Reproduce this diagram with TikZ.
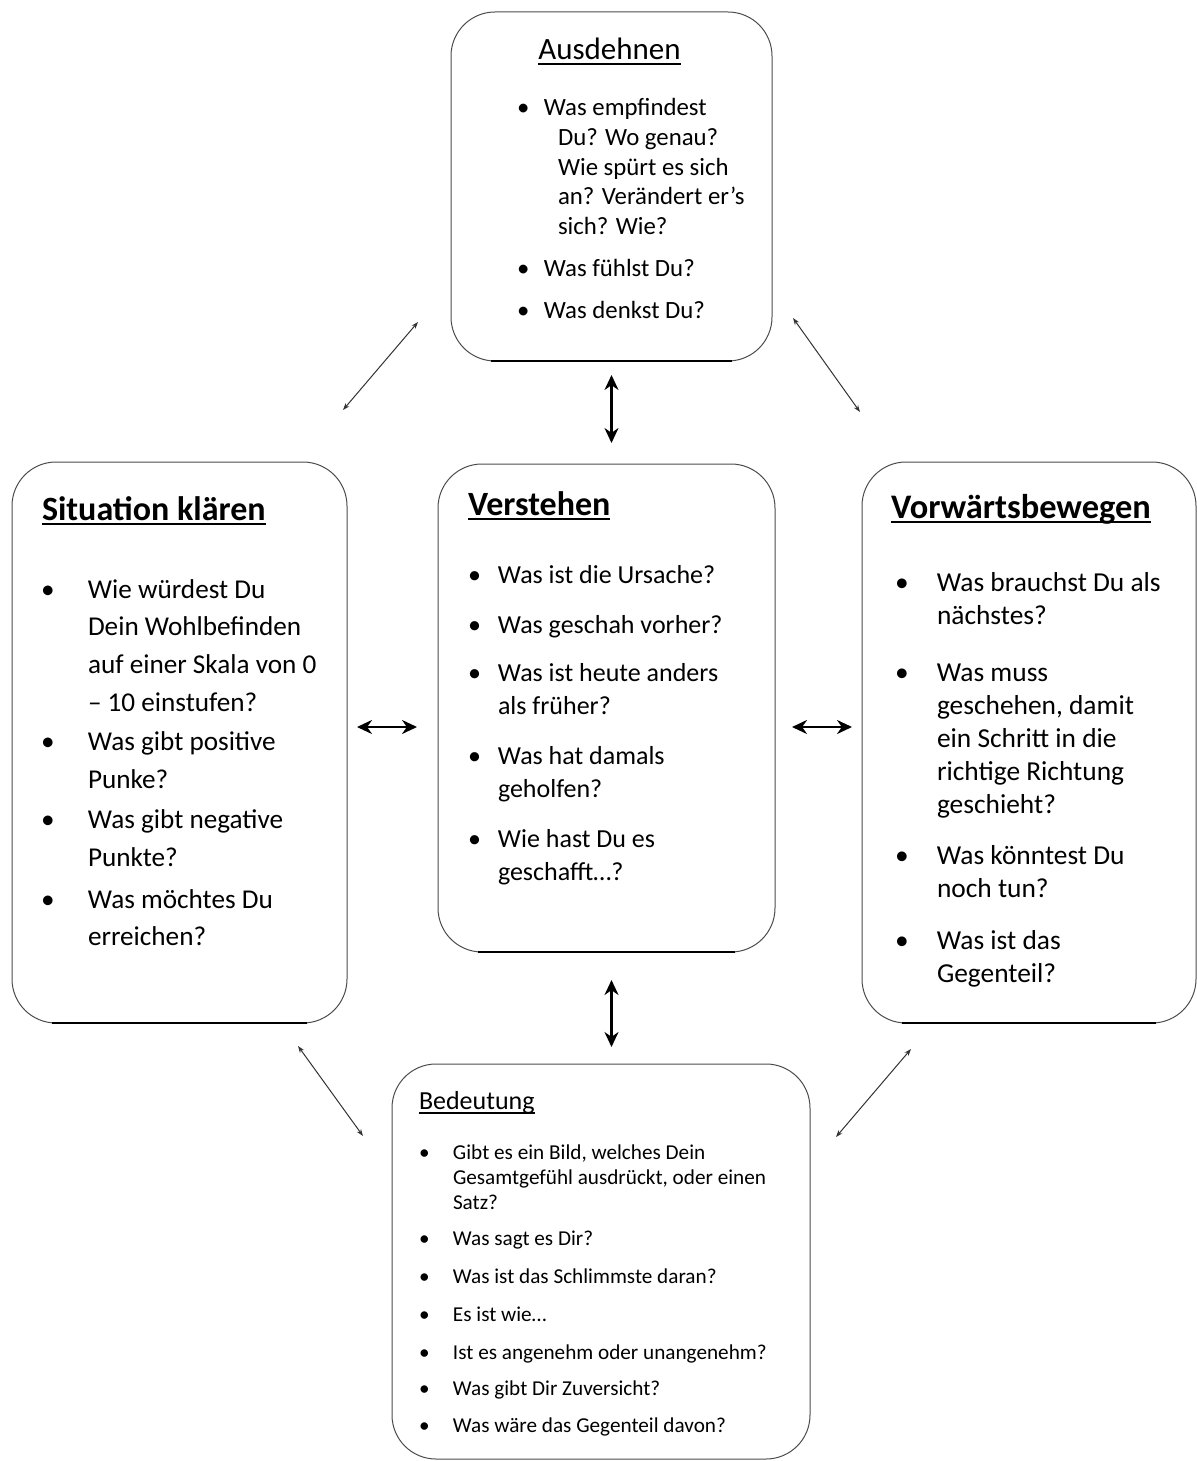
\documentclass[tikz,border=0pt]{standalone}
\usepackage{fontspec}
\setmainfont{Carlito}
\usetikzlibrary{arrows.meta}

\newcommand{\titleline}[1]{\setbox0\hbox{#1}\rlap{\usebox0}\rule[-2.4pt]{\wd0}{0.9pt}}

\begin{document}
\begin{tikzpicture}[x=0.5pt,y=-0.5pt]
\tikzset{ >=Stealth, inner sep=0pt, outer sep=0pt,
  box/.style={draw=black!70, line width=0.5pt, rounded corners=22pt},
  boxfoot/.style={line width=1.4pt},
  bigarrow/.style={<->, line width=1.2pt, >={Stealth[length=7.5pt,width=7pt]}},
  thinarrow/.style={<->, line width=0.5pt, black!80, >={Stealth[length=3.5pt,width=2.5pt]}},
  txt/.style={anchor=base west},
}
\useasboundingbox (0,0) rectangle (1197,1461);
\clip (0,0) rectangle (1197,1461);

%\draw [lightgray, dashed](0,0) grid[step=100] (1197,1461);

\node [box, minimum width=160.5pt, minimum height=174.5pt] (aus) at (611.5,186.5) {};
\node [box, minimum width=167.5pt, minimum height=280.5pt] (sit) at (179.5,742.5) {};
\node [box, minimum width=168.5pt, minimum height=244pt]   (ver) at (606.5,708) {};
\node [box, minimum width=167pt,   minimum height=280.5pt] (vor) at (1029,742.5) {};
\node [box, minimum width=209pt,   minimum height=197.5pt] (bed) at (601,1261.5) {};

\draw [boxfoot] ([xshift=20pt]aus.south west) -- ([xshift=-20pt]aus.south east);
\draw [boxfoot] ([xshift=20pt]sit.south west) -- ([xshift=-20pt]sit.south east);
\draw [boxfoot] ([xshift=20pt]ver.south west) -- ([xshift=-20pt]ver.south east);
\draw [boxfoot] ([xshift=20pt]vor.south west) -- ([xshift=-20pt]vor.south east);

% titles
\node [anchor=base] (ausT) at (609.5,60) {\fontsize{15.5}{18}\selectfont\titleline{Ausdehnen}};
\node [txt] (sitT) at (42,520) {\fontsize{17}{20}\selectfont\bfseries\titleline{Situation klären}};
\node [txt] (verT) at (468,515) {\fontsize{17}{20}\selectfont\bfseries\titleline{Verstehen}};
\node [txt] (vorT) at (891,518) {\fontsize{17.2}{20}\selectfont\bfseries\titleline{Vorwärtsbewegen}};
\node [txt] (bedT) at (419,1109) {\fontsize{13}{15}\selectfont\titleline{Bedeutung}};

% questions
\node [txt] (ausQ) at (517,116) {\fontsize{12.4}{14.75}\selectfont
\begin{tabular}[t]{@{}p{13.5pt}@{}l@{}}
\textbullet & Was empfindest\\
 & \hspace{7pt}Du? Wo genau?\\
 & \hspace{7pt}Wie spürt es sich\\
 & \hspace{7pt}an? Verändert er’s\\
 & \hspace{7pt}sich? Wie?\\[6.5pt]
\textbullet & Was fühlst Du?\\[6.25pt]
\textbullet & Was denkst Du?
\end{tabular}};

\node [txt] (sitQ) at (41,598) {\fontsize{13.6}{18.85}\selectfont
\begin{tabular}[t]{@{}p{23.5pt}@{}l@{}}
\textbullet & Wie würdest Du\\
 & Dein Wohlbefinden\\
 & auf einer Skala von 0\\
 & – 10 einstufen?\\[0.8pt]
\textbullet & Was gibt positive\\
 & Punke?\\[1.5pt]
\textbullet & Was gibt negative\\
 & Punkte?\\[2pt]
\textbullet & Was möchtes Du\\
 & erreichen?
\end{tabular}};

\node [txt] (verQ) at (468,583) {\fontsize{13}{16.5}\selectfont
\begin{tabular}[t]{@{}p{15pt}@{}l@{}}
\textbullet & Was ist die Ursache?\\[8.5pt]
\textbullet & Was geschah vorher?\\[7.5pt]
\textbullet & Was ist heute anders\\
 & als früher?\\[8.5pt]
\textbullet & Was hat damals\\
 & geholfen?\\[8.5pt]
\textbullet & Wie hast Du es\\
 & geschafft…?
\end{tabular}};

\node [txt] (vorQ) at (895,591) {\fontsize{13.7}{16.5}\selectfont
\begin{tabular}[t]{@{}p{21pt}@{}l@{}}
\textbullet & Was brauchst Du als\\
 & nächstes?\\[12pt]
\textbullet & Was muss\\
 & geschehen, damit\\
 & ein Schritt in die\\
 & richtige Richtung\\
 & geschieht?\\[9pt]
\textbullet & Was könntest Du\\
 & noch tun?\\[9.5pt]
\textbullet & Was ist das\\
 & Gegenteil?
\end{tabular}};

\node [txt] (bedQ) at (419,1159) {\fontsize{10.6}{12.5}\selectfont
\begin{tabular}[t]{@{}p{17pt}@{}l@{}}
\textbullet & Gibt es ein Bild, welches Dein\\
 & Gesamtgefühl ausdrückt, oder einen\\
 & Satz?\\[5.5pt]
\textbullet & Was sagt es Dir?\\[6.5pt]
\textbullet & Was ist das Schlimmste daran?\\[6.5pt]
\textbullet & Es ist wie…\\[6.5pt]
\textbullet & Ist es angenehm oder unangenehm?\\[5.5pt]
\textbullet & Was gibt Dir Zuversicht?\\[6pt]
\textbullet & Was wäre das Gegenteil davon?
\end{tabular}};

% connectors
\coordinate (midrow) at (0,727);
\draw [bigarrow, shorten <=7pt, shorten >=10.5pt] (aus.south) -- (aus.south |- ver.north);
\draw [bigarrow, shorten <=14pt, shorten >=8.5pt] (aus.south |- ver.south) -- (aus.south |- bed.north);
\draw [bigarrow, shorten <=5pt, shorten >=10.5pt] (sit.east |- midrow) -- (ver.west |- midrow);
\draw [bigarrow, shorten <=8.5pt, shorten >=5pt] (ver.east |- midrow) -- (vor.west |- midrow);

\coordinate (nwA) at (418,322);  \coordinate (nwB) at (343,410);
\coordinate (neA) at (793,318);  \coordinate (neB) at (860,412);
\coordinate (swA) at (298,1046); \coordinate (swB) at (363,1136);
\coordinate (seA) at (911,1049); \coordinate (seB) at (836,1137);

\draw [thinarrow] (nwA) -- (nwB);
\draw [thinarrow] (neA) -- (neB);
\draw [thinarrow] (swA) -- (swB);
\draw [thinarrow] (seA) -- (seB);

\end{tikzpicture}
\end{document}
